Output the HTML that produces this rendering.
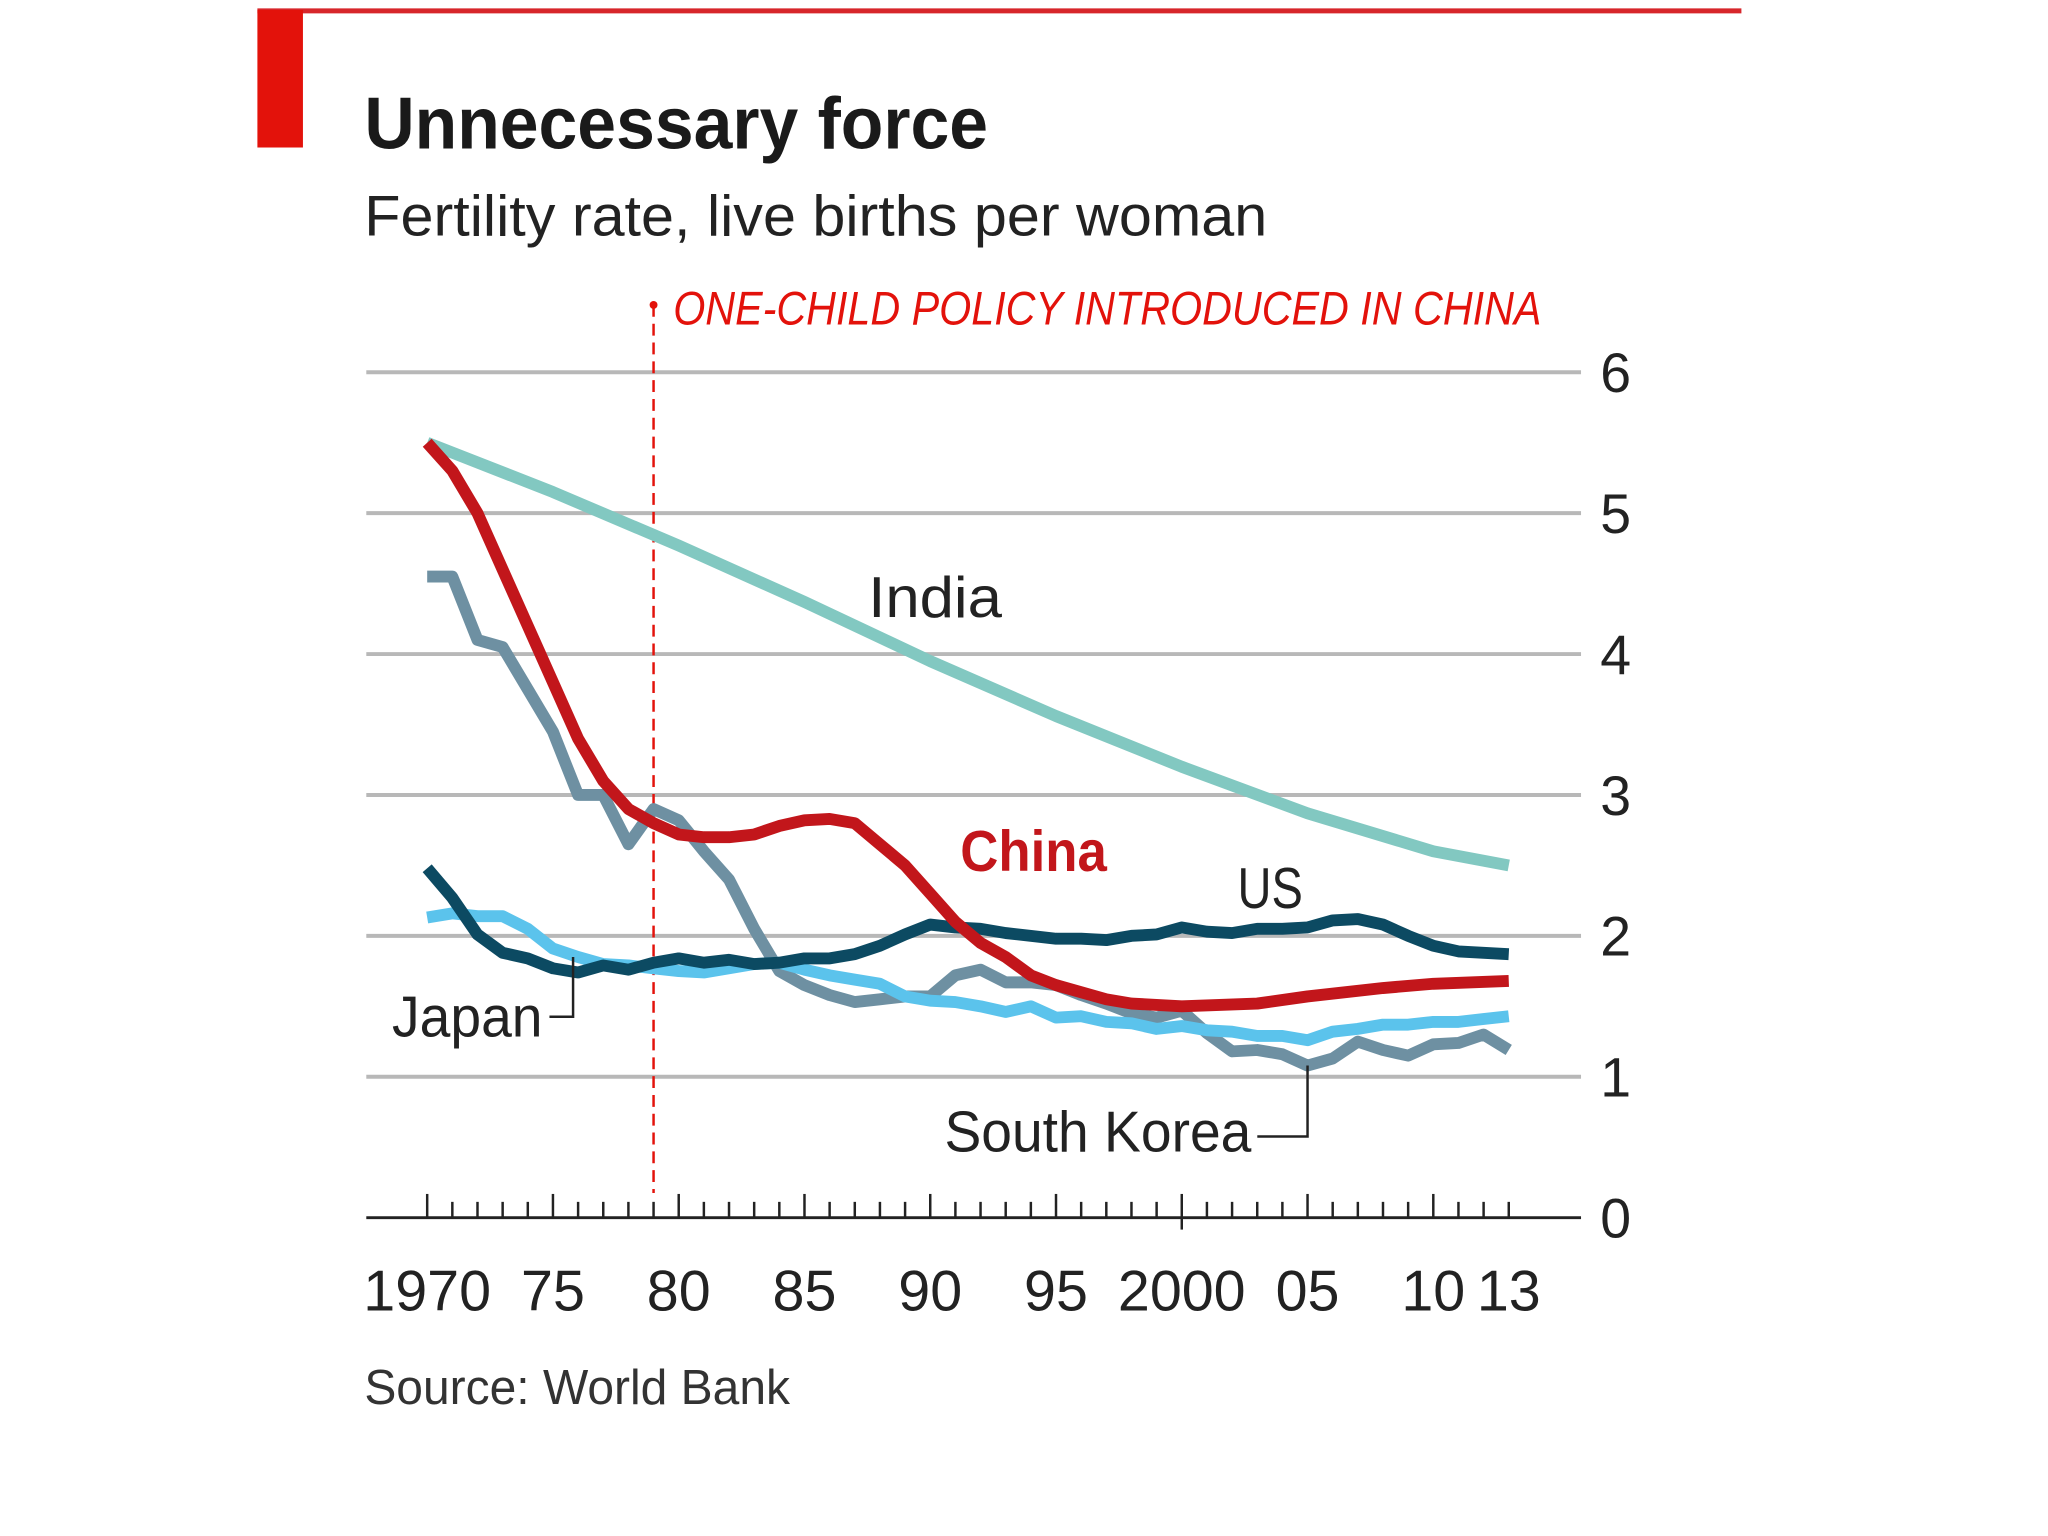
<!DOCTYPE html>
<html><head><meta charset="utf-8"><style>
html,body{margin:0;padding:0;background:#fff;}
svg{display:block;font-family:"Liberation Sans Narrow","Liberation Sans",sans-serif;}
</style></head><body>
<svg id="chart" width="2048" height="1536" viewBox="0 0 2048 1536">
<rect x="0" y="0" width="2048" height="1536" fill="#fff"/>
<g transform="scale(0.99)">
<line x1="260" y1="11" x2="1759" y2="11" stroke="#d7262b" stroke-width="5"/>
<rect x="260" y="10" width="46" height="139" fill="#e3120b"/>
<text x="368" y="150" font-size="74" font-weight="bold" fill="#1a1a1a" textLength="630" lengthAdjust="spacingAndGlyphs">Unnecessary force</text>
<text x="368" y="238" font-size="58" fill="#222" textLength="912" lengthAdjust="spacingAndGlyphs">Fertility rate, live births per woman</text>
<g id="grid"></g>
<g id="axis"></g>
<g id="series"></g>
<g id="labels"></g>
<text x="368" y="1418" font-size="50" fill="#333" textLength="430" lengthAdjust="spacingAndGlyphs">Source: World Bank</text>
</g>
</svg>
<script>
const years = [];
for (let y = 1970; y <= 2013; y++) years.push(y);
const yTicks = [0,1,2,3,4,5,6];
const xTickLabels = ["1970","75","80","85","90","95","2000","05","10","13"];
const xTickYears = [1970,1975,1980,1985,1990,1995,2000,2005,2010,2013];
const indiaYears = [1970,1975,1980,1985,1990,1995,2000,2005,2010,2013];
const india = [5.5,5.15,4.77,4.37,3.95,3.56,3.2,2.87,2.6,2.5];
const chinaYears = [1970,1971,1972,1973,1974,1975,1976,1977,1978,1979,1980,1981,1982,1983,1984,1985,1986,1987,1988,1989,1990,1991,1992,1993,1994,1995,1996,1997,1998,2000,2003,2005,2008,2010,2013];
const china = [5.5,5.3,5.0,4.6,4.2,3.8,3.4,3.1,2.9,2.8,2.72,2.7,2.7,2.72,2.78,2.82,2.83,2.8,2.65,2.5,2.3,2.1,1.95,1.85,1.72,1.65,1.6,1.55,1.52,1.5,1.52,1.57,1.63,1.66,1.68];
const korea = [4.55,4.55,4.1,4.05,3.75,3.45,3.0,3.0,2.65,2.9,2.82,2.6,2.4,2.05,1.75,1.65,1.58,1.53,1.55,1.57,1.57,1.72,1.76,1.67,1.67,1.65,1.58,1.52,1.45,1.42,1.47,1.31,1.18,1.19,1.16,1.08,1.13,1.25,1.19,1.15,1.23,1.24,1.3,1.19];
const japan = [2.13,2.16,2.14,2.14,2.05,1.91,1.85,1.8,1.79,1.77,1.75,1.74,1.77,1.8,1.81,1.76,1.72,1.69,1.66,1.57,1.54,1.53,1.5,1.46,1.5,1.42,1.43,1.39,1.38,1.34,1.36,1.33,1.32,1.29,1.29,1.26,1.32,1.34,1.37,1.37,1.39,1.39,1.41,1.43];
const us = [2.48,2.27,2.01,1.88,1.84,1.77,1.74,1.79,1.76,1.81,1.84,1.81,1.83,1.8,1.81,1.84,1.84,1.87,1.93,2.01,2.08,2.06,2.05,2.02,2.0,1.98,1.98,1.97,2.0,2.01,2.06,2.03,2.02,2.05,2.05,2.06,2.11,2.12,2.08,2.0,1.93,1.89,1.88,1.87];
const policyYear = 1979;

const NS = "http://www.w3.org/2000/svg";
const X = yr => 431.5 + (yr - 1970) * (1524 - 431.5) / 43;
const Y = v => 1230 - v * (1230 - 376) / 6;
function mk(tag, attrs, parent) {
  const e = document.createElementNS(NS, tag);
  for (const k in attrs) e.setAttribute(k, attrs[k]);
  parent.appendChild(e);
  return e;
}
const grid = document.getElementById('grid');
yTicks.forEach(v => {
  if (v > 0) {
    const l = mk('line', {x1:370, x2:1597, y1:Y(v), y2:Y(v), stroke:'#b8b8b8', 'stroke-width':4}, grid);
    
    
  }
  const t = mk('text', {x:1632, y:Y(v)+20, 'font-size':56, fill:'#222', 'text-anchor':'middle'}, grid);
  t.textContent = v;
  
  
});
const axis = document.getElementById('axis');
const al = mk('line', {x1:370, x2:1597, y1:1230, y2:1230, stroke:'#222', 'stroke-width':3}, axis);


years.forEach(yr => {
  const major = yr % 5 === 0;
  const h = major ? 24 : 16;
  const yb = yr === 2000 ? 1242 : 1230;
  const t = mk('line', {x1:X(yr), x2:X(yr), y1:1230-h, y2:yb, stroke:'#222', 'stroke-width':2.5}, axis);
  
  
});
xTickLabels.forEach((lab, i) => {
  const x = X(xTickYears[i]);
  const t = mk('text', {x:x, y:1324, 'font-size':58, fill:'#222', 'text-anchor':'middle'}, axis);
  t.textContent = lab;
  
  
});
const pl = mk('line', {x1:X(policyYear), x2:X(policyYear), y1:308, y2:1205, stroke:'#e3120b', 'stroke-width':2.5, 'stroke-dasharray':'12 7'}, axis);


const pd = mk('circle', {cx:X(policyYear), cy:308, r:4, fill:'#e3120b'}, axis);


const pt = mk('text', {x:680, y:328, 'font-size':48, fill:'#e3120b', 'font-style':'italic', textLength:877, lengthAdjust:'spacingAndGlyphs'}, axis);
pt.textContent = 'ONE-CHILD POLICY INTRODUCED IN CHINA';



const series = document.getElementById('series');
function line(xs, vs, color, name) {
  const d = vs.map((v, i) => (i ? 'L' : 'M') + X(xs[i]).toFixed(1) + ',' + Y(v).toFixed(1)).join(' ');
  const p = mk('path', {d:d, fill:'none', stroke:color, 'stroke-width':12, 'stroke-linejoin':'round', 'stroke-linecap':'butt'}, series);
  
  
}
line(indiaYears, india, '#82c8c1', 'india-line');
line(years, korea, '#6e90a2', 'south-korea-line');
line(years, japan, '#5bc3ec', 'japan-line');
line(years, us, '#0c4a62', 'us-line');
line(chinaYears, china, '#c2161b', 'china-line');

const labels = document.getElementById('labels');
function lab(txt, x, y, opts, name) {
  const t = mk('text', Object.assign({x:x, y:y, 'font-size':58, fill:'#222'}, opts), labels);
  t.textContent = txt;
  
  
}
lab('India', 877, 623, {textLength:135, lengthAdjust:'spacingAndGlyphs'}, 'india-label');
lab('China', 970, 880, {fill:'#c2161b', 'font-weight':'bold', textLength:148, lengthAdjust:'spacingAndGlyphs'}, 'china-label');
lab('US', 1250, 917, {textLength:66, lengthAdjust:'spacingAndGlyphs'}, 'us-label');
lab('Japan', 396, 1047, {textLength:152, lengthAdjust:'spacingAndGlyphs'}, 'japan-label');
lab('South Korea', 954, 1163, {textLength:310, lengthAdjust:'spacingAndGlyphs'}, 'south-korea-label');
const jx = X(1975.8), jy = Y(japan[6]);
const jc = mk('path', {d:`M555,1027 H${jx} V${jy}`, fill:'none', stroke:'#222', 'stroke-width':2.5}, labels);


const kx = X(2005), ky = Y(korea[35]);
const kc = mk('path', {d:`M1270,1148 H${kx} V${ky}`, fill:'none', stroke:'#222', 'stroke-width':2.5}, labels);


</script>
</body></html>
